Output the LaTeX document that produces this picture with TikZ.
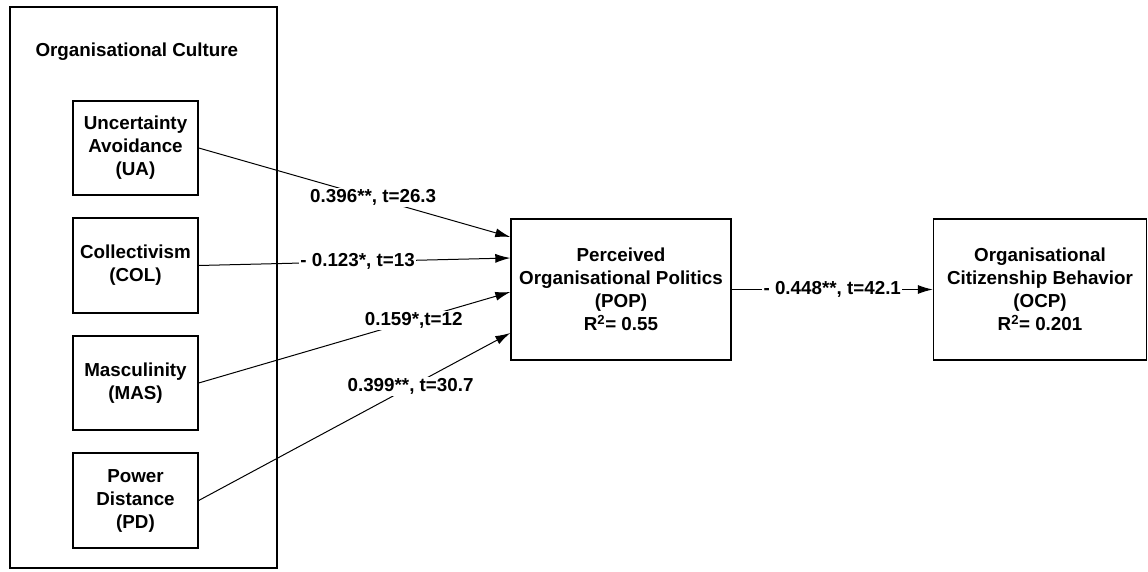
\documentclass[tikz,border=0pt]{standalone}
\usepackage{fontspec}
\setmainfont{Liberation Sans}
\usetikzlibrary{arrows.meta}
\begin{document}
\begin{tikzpicture}[x=1pt,y=-1pt,
  txt/.style={font=\bfseries\fontsize{18.8}{23}\selectfont},
  box/.style={draw, line width=1.4pt, align=center, inner sep=0pt, txt},
  conn/.style={line width=1pt, -{Latex[length=15pt,width=9pt]}},
  lab/.style={fill=white, inner sep=1.5pt, txt}]
\useasboundingbox (0,0) rectangle (1148,572);
\node[draw, line width=1.4pt, minimum width=267pt, minimum height=561pt] (oc) at (143.5,287.5) {};
\node[txt, anchor=west] (octitle) at (32,52) {Organisational Culture};
\node[box, minimum width=125pt, minimum height=94pt] (ua) at (135.5,148) {Uncertainty\\Avoidance\\(UA)};
\node[box, minimum width=125pt, minimum height=95pt] (col) at (135.5,265.5) {Collectivism\\(COL)};
\node[box, minimum width=125pt, minimum height=94pt] (mas) at (135.5,383) {Masculinity\\(MAS)};
\node[box, minimum width=125pt, minimum height=95pt] (pd) at (135.5,500.5) {Power\\Distance\\(PD)};
\node[box, minimum width=220pt, minimum height=141pt] (pop) at (621,289.5) {Perceived\\Organisational Politics\\(POP)\\R\textsuperscript{2}= 0.55};
\node[box, minimum width=213pt, minimum height=141pt] (ocp) at (1040,289.5) {Organisational\\Citizenship Behavior\\(OCP)\\R\textsuperscript{2}= 0.201};
\draw[conn] (ua.east) -- ([yshift=52.5pt]pop.west) node[lab, pos=0.56] {0.396**, t=26.3};
\draw[conn] (col.east) -- ([yshift=31.5pt]pop.west) node[lab, pos=0.51] {- 0.123*, t=13};
\draw[conn] (mas.east) -- ([yshift=-2.5pt]pop.west) node[lab, pos=0.69] {0.159*,t=12};
\draw[conn] (pd.east) -- ([yshift=-43.5pt]pop.west) node[lab, pos=0.68] {0.399**, t=30.7};
\draw[conn] (pop.east) -- (ocp.west) node[lab, pos=0.5] {- 0.448**, t=42.1};
\end{tikzpicture}
\end{document}
